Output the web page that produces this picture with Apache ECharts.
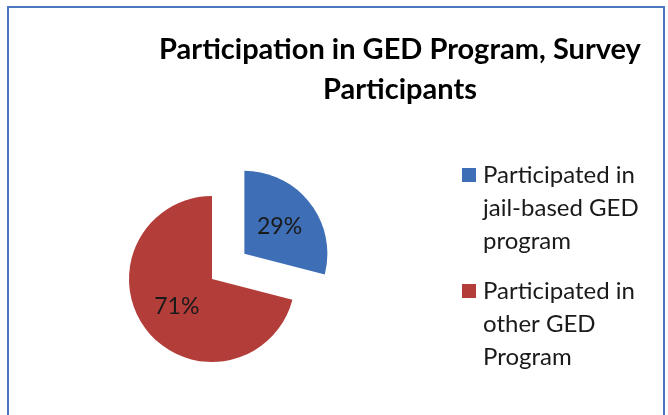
<!DOCTYPE html>
<html>
<head>
<meta charset="utf-8">
<script src="https://cdn.jsdelivr.net/npm/echarts@6/dist/echarts.min.js"></script>
<style>html,body{margin:0;padding:0;background:#fff}#c{width:668px;height:415px}</style>
</head>
<body>
<div id="c"></div>
<script>
const titleText = 'Participation in GED Program, Survey\nParticipants';
const categories = ['Participated in jail-based GED program', 'Participated in other GED Program'];
const legendLabels = ['Participated in\njail-based GED\nprogram', 'Participated in\nother GED\nProgram'];
const values = [29, 71];
const colors = ['#3E6EB5', '#B23D39'];

const FONT = 'Lato';
const chart = echarts.init(document.getElementById('c'), null, {renderer: 'canvas'});
chart.setOption({
  backgroundColor: '#fff',
  animation: false,
  graphic: [{
    type: 'rect', silent: true, z: -1,
    shape: {x: 8, y: 7, width: 656, height: 430},
    style: {fill: 'none', stroke: '#4A78BE', lineWidth: 2}
  }],
  title: {
    text: titleText,
    left: 400,
    textAlign: 'center',
    top: 30,
    padding: 0,
    textStyle: {fontFamily: FONT, fontWeight: 'bold', fontSize: 29, lineHeight: 40, color: '#000'}
  },
  legend: {
    orient: 'vertical',
    left: 462,
    top: 158.5,
    padding: 0,
    itemGap: 17,
    itemWidth: 14,
    itemHeight: 99,
    icon: 'path://M0,0h0.01v0.01h-0.01zM0,9.5h14v14h-14zM0,98.99h0.01v0.01h-0.01z',
    data: categories,
    formatter: function (name) { return legendLabels[categories.indexOf(name)]; },
    selectedMode: false,
    textStyle: {fontFamily: FONT, fontSize: 24, lineHeight: 33, color: '#1a1a1a', padding: [0, 0, 0, 2]}
  },
  series: [{
    type: 'pie',
    center: [212, 279],
    radius: 83,
    startAngle: 90,
    clockwise: true,
    selectedMode: 'single',
    selectedOffset: 41,
    avoidLabelOverlap: false,
    label: {
      show: true, position: 'inside', formatter: '{d}%',
      fontFamily: FONT, fontSize: 23, color: '#1a1a1a'
    },
    labelLine: {show: false},
    emphasis: {disabled: true},
    itemStyle: {borderWidth: 0},
    data: categories.map((c, i) => ({
      name: c, value: values[i], selected: i === 0,
      itemStyle: {color: colors[i]}
    }))
  }]
});
</script>
</body>
</html>
